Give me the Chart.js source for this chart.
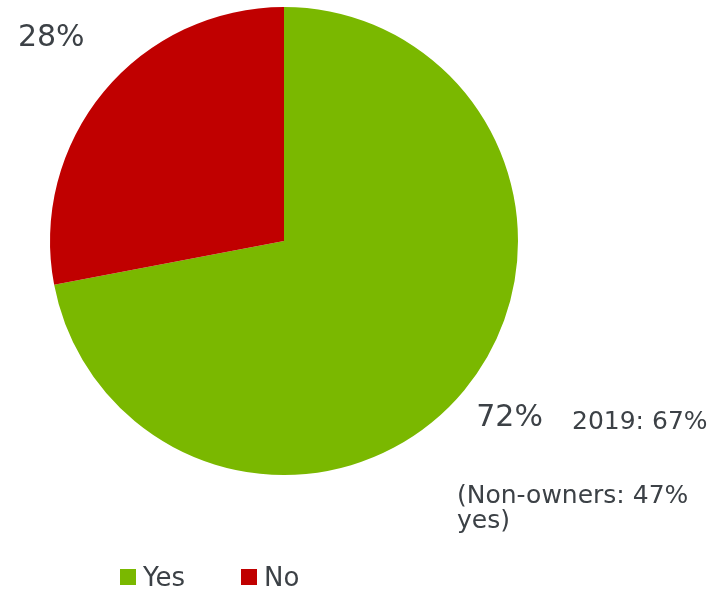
<!DOCTYPE html>
<html>
<head>
<meta charset="utf-8">
<script src="https://cdn.jsdelivr.net/npm/chart.js@4/dist/chart.umd.min.js"></script>
<style>
  html, body { margin: 0; padding: 0; background: #ffffff; }
  #wrap { width: 710px; height: 590px; position: relative; }
</style>
</head>
<body>
<div id="wrap"><canvas id="c" width="710" height="590"></canvas></div>
<script>
// Share of respondents answering yes / no
const categories = ['Yes', 'No'];
const shares = [72, 28];
const colors = ['#7ab800', '#c00000'];
const comparisonNotes = ['2019: 67%', '(Non-owners: 47%', 'yes)'];

const TEXT = '#3c4146';
const FONT = '"DejaVu Sans", Verdana, sans-serif';

// Percent labels outside each slice, along the slice's middle angle
const sliceLabels = {
  id: 'sliceLabels',
  afterDatasetsDraw(chart) {
    const ctx = chart.ctx;
    const meta = chart.getDatasetMeta(0);
    const dist = [1.225, 1.32];
    const turn = [-1.5, 1.5];
    ctx.save();
    ctx.fillStyle = TEXT;
    ctx.font = '30px ' + FONT;
    ctx.textAlign = 'center';
    ctx.textBaseline = 'middle';
    meta.data.forEach((arc, i) => {
      const p = arc.getProps(['x', 'y', 'startAngle', 'endAngle', 'outerRadius'], true);
      const mid = (p.startAngle + p.endAngle) / 2 + turn[i] * Math.PI / 180;
      const r = p.outerRadius * dist[i];
      ctx.fillText(shares[i] + '%', p.x + Math.cos(mid) * r, p.y + Math.sin(mid) * r);
    });
    ctx.restore();
  }
};

// Side notes and the legend row beneath the pie
const notesAndLegend = {
  id: 'notesAndLegend',
  afterDraw(chart) {
    const ctx = chart.ctx;
    ctx.save();
    ctx.fillStyle = TEXT;
    ctx.font = '25px ' + FONT;
    ctx.textAlign = 'left';
    ctx.textBaseline = 'alphabetic';
    ctx.fillText(comparisonNotes[0], 572, 429);
    ctx.fillText(comparisonNotes[1], 457, 503);
    ctx.fillText(comparisonNotes[2], 457, 528);

    // legend
    const ds = chart.data.datasets[0];
    const xs = [120, 241];
    chart.data.labels.forEach((lab, i) => {
      ctx.fillStyle = ds.backgroundColor[i];
      ctx.fillRect(xs[i], 569, 16, 16);
      ctx.fillStyle = TEXT;
      ctx.font = '26px ' + FONT;
      ctx.fillText(lab, xs[i] + 23, 586);
    });
    ctx.restore();
  }
};

new Chart(document.getElementById('c'), {
  type: 'pie',
  data: {
    labels: categories,
    datasets: [{
      data: shares,
      backgroundColor: colors,
      borderWidth: 0
    }]
  },
  options: {
    responsive: false,
    animation: false,
    layout: { padding: { left: 50, right: 192, top: 7, bottom: 115 } },
    plugins: {
      legend: { display: false },
      tooltip: { enabled: false }
    }
  },
  plugins: [sliceLabels, notesAndLegend]
});
</script>
</body>
</html>
